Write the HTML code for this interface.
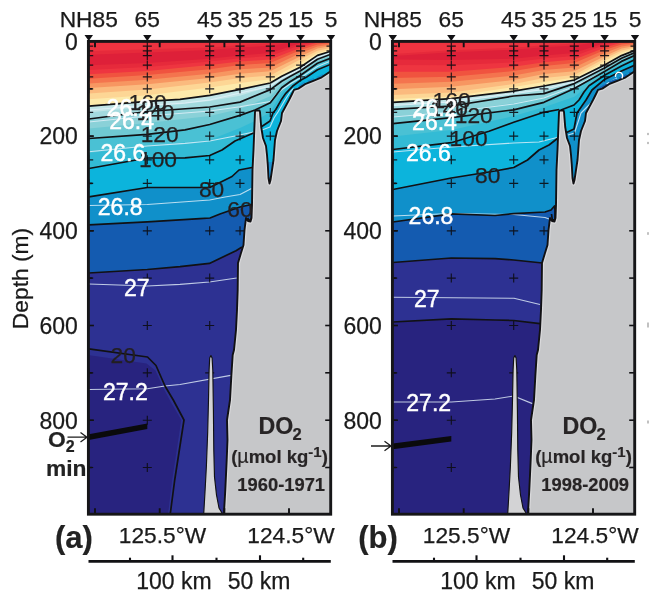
<!DOCTYPE html>
<html lang="en">
<head>
<meta charset="utf-8">
<title>Dissolved oxygen sections</title>
<style>
html, body { margin: 0; padding: 0; background: #fff; }
body { width: 659px; height: 601px; overflow: hidden; font-family: "Liberation Sans", Arial, sans-serif; }
svg { display: block; filter: blur(0.45px); }
</style>
</head>
<body>
<svg width="659" height="601" viewBox="0 0 659 601" font-family="'Liberation Sans', Arial, sans-serif" fill="#1a1a1a">
<rect width="659" height="601" fill="#fff"/>
<g transform="translate(0.00,0)">
<clipPath id="clipa"><rect x="88.4" y="41.4" width="242.29999999999998" height="472.80000000000007"/></clipPath>
<g clip-path="url(#clipa)">
<rect x="88.4" y="41.4" width="242.29999999999998" height="472.80000000000007" fill="#2d3192"/>
<polygon points="86.0,354.6 146.5,363.6 155.5,370.5 163.0,387.5 170.5,401.5 181.3,420.0 172.2,480.0 167.8,516.0 86.0,516.0" fill="#28237f"/>
<polygon points="88.8,39.4 88.8,273.0 147.3,269.5 180.0,266.7 209.4,263.4 236.0,250.7 242.0,247.0 260.0,247.0 260.0,39.4" fill="#145bb0"/>
<polygon points="88.8,39.4 88.8,224.8 147.3,221.8 200.0,218.7 210.0,218.0 220.0,214.0 240.0,207.0 251.5,204.5 260.0,204.0 260.0,39.4" fill="#1090ca"/>
<polygon points="88.8,39.4 88.8,196.8 147.3,187.5 209.7,187.5 225.0,180.0 232.0,176.5 239.0,170.0 252.0,167.5 260.0,167.0 260.0,200.0 335.0,200.0 335.0,39.4" fill="#0cb4dc"/>
<polygon points="88.8,39.4 88.8,168.5 147.3,158.0 185.0,157.8 209.7,155.5 222.0,150.0 235.0,141.0 253.5,133.0 258.0,130.0 261.0,127.0 270.0,121.0 273.0,113.0 275.8,109.5 281.7,99.2 285.8,93.3 292.5,86.3 300.6,80.2 306.7,77.0 317.5,69.8 331.0,64.2 331.0,39.4" fill="#33bbd5"/>
<polygon points="88.8,39.4 88.8,153.0 147.3,146.0 209.7,140.0 240.0,128.0 257.0,120.0 270.3,112.0 278.0,99.0 285.0,89.5 300.6,77.7 317.5,66.5 331.0,61.0 331.0,39.4" fill="#4ac1d4"/>
<polygon points="88.8,39.4 88.8,138.5 147.3,134.3 185.0,129.8 209.7,124.5 240.0,115.4 255.0,110.0 270.3,102.8 275.9,95.5 281.7,87.8 290.0,81.8 300.6,75.3 317.5,63.3 331.0,58.0 331.0,39.4" fill="#6fc9d3"/>
<polygon points="88.8,39.4 88.8,128.5 147.3,123.0 209.7,116.0 240.0,109.0 270.3,96.2 281.7,84.5 290.0,79.0 300.6,73.0 317.5,61.2 331.0,56.0 331.0,39.4" fill="#8ad1d8"/>
<polygon points="88.8,39.4 88.8,119.0 147.3,111.5 209.7,107.0 240.0,102.1 270.3,89.6 281.7,81.2 290.0,76.4 300.6,70.8 317.5,59.2 331.0,54.2 331.0,39.4" fill="#a3dade"/>
<polygon points="88.8,39.4 88.8,112.6 147.3,106.4 180.0,104.3 209.7,101.1 240.0,95.7 270.3,86.3 281.7,78.7 300.6,68.9 317.5,57.3 331.0,52.7 331.0,39.4" fill="#c2e6e8"/>
<polygon points="88.8,39.4 88.8,106.2 147.3,101.3 180.0,99.3 209.7,95.3 240.0,89.3 270.3,83.0 281.7,76.2 300.6,67.0 317.5,55.4 331.0,51.2 331.0,39.4" fill="#fdeaab"/>
<polygon points="88.8,39.4 88.8,99.2 147.3,95.3 209.7,87.4 240.0,83.0 270.3,79.3 300.6,63.0 317.5,53.0 331.0,49.5 331.0,39.4" fill="#fdd695"/>
<polygon points="88.8,39.4 88.8,93.4 147.3,89.5 209.7,82.4 240.0,78.0 270.3,75.6 300.6,59.3 317.5,50.8 331.0,47.8 331.0,39.4" fill="#fbba7e"/>
<polygon points="88.8,39.4 88.8,88.1 147.3,84.3 209.7,78.0 240.0,73.7 270.3,71.2 300.6,56.2 317.5,48.5 331.0,46.0 331.0,39.4" fill="#f79661"/>
<polygon points="88.8,39.4 88.8,83.4 147.3,79.7 209.7,73.7 240.0,69.3 270.3,67.5 300.6,53.0 317.5,46.5 331.0,44.4 331.0,39.4" fill="#f4744e"/>
<polygon points="88.8,39.4 88.8,78.8 147.3,75.0 209.7,69.3 240.0,65.0 270.3,63.0 300.6,50.0 317.5,44.5 331.0,43.0 331.0,39.4" fill="#f0533f"/>
<polygon points="88.8,39.4 88.8,74.2 147.3,71.0 209.7,65.1 240.0,61.4 270.3,59.5 300.6,47.7 317.5,42.5 331.0,41.5 331.0,39.4" fill="#ee3540"/>
<polygon points="88.8,39.4 88.8,70.0 147.3,67.0 209.7,61.5 240.0,58.2 270.3,56.0 300.6,45.1 317.5,41.7 331.0,41.2 331.0,39.4" fill="#e62a3b"/>
<polygon points="88.8,39.4 88.8,65.3 147.3,63.0 209.7,58.7 240.0,55.6 270.3,53.1 300.6,43.1 317.5,41.0 331.0,41.0 331.0,39.4" fill="#de2039"/>
<polygon points="88.8,39.4 88.8,54.8 147.3,52.6 209.7,50.0 240.0,47.5 270.3,45.7 300.6,41.0 317.5,41.0 331.0,41.0 331.0,39.4" fill="#e62a3b"/>
<polygon points="88.8,39.4 88.8,51.3 147.3,49.2 209.7,47.4 240.0,44.9 270.3,43.1 300.6,41.0 317.5,41.0 331.0,41.0 331.0,39.4" fill="#ee3340"/>
<polygon points="262.0,162.0 278.0,162.0 278.0,190.0 262.0,190.0" fill="#1c8fd0"/>
<polyline points="88.8,110.0 147.3,105.5 185.0,103.0 209.7,100.0 240.0,93.0 270.3,86.3 281.7,78.5 300.6,69.0 317.5,57.3 331.0,52.7" fill="none" stroke="#e4f1fa" stroke-opacity="0.8" stroke-width="1.15" stroke-linejoin="round"/>
<polyline points="88.8,122.0 147.3,116.0 185.0,113.0 209.7,111.0 240.0,106.7 270.3,101.5 275.5,95.0 281.7,89.8 290.0,84.0 300.6,77.8 317.5,66.5 331.0,61.0" fill="none" stroke="#e4f1fa" stroke-opacity="0.8" stroke-width="1.15" stroke-linejoin="round"/>
<polyline points="88.8,151.8 147.3,146.0 185.0,143.4 209.7,141.0 235.0,136.0 253.5,132.0" fill="none" stroke="#e4f1fa" stroke-opacity="0.8" stroke-width="1.15" stroke-linejoin="round"/>
<polyline points="262.0,130.0 270.0,127.0 274.0,118.0 278.0,112.0 285.0,100.0 290.5,91.5 293.5,88.5" fill="none" stroke="#e4f1fa" stroke-opacity="0.8" stroke-width="1.15" stroke-linejoin="round"/>
<polyline points="88.8,205.5 147.3,204.5 209.7,200.0 225.0,197.0 240.0,194.5 251.5,188.5" fill="none" stroke="#e4f1fa" stroke-opacity="0.8" stroke-width="1.15" stroke-linejoin="round"/>
<polyline points="88.8,284.0 147.3,286.0 180.0,284.4 209.4,282.0 236.7,278.0" fill="none" stroke="#e4f1fa" stroke-opacity="0.8" stroke-width="1.15" stroke-linejoin="round"/>
<polyline points="88.8,389.5 147.3,388.8 165.0,386.0 180.0,384.5 230.7,375.4" fill="none" stroke="#e4f1fa" stroke-opacity="0.8" stroke-width="1.15" stroke-linejoin="round"/>
<polyline points="88.8,106.2 147.3,101.3 180.0,99.3 209.7,95.3 240.0,89.3 270.3,83.0 281.7,76.2 300.6,67.0 317.5,55.4 331.0,51.2" fill="none" stroke="#111114" stroke-width="1.7" stroke-linejoin="round"/>
<polyline points="88.8,119.0 147.3,111.5 209.7,107.0 240.0,102.1 270.3,89.6 281.7,81.2 290.0,76.4 300.6,70.8 317.5,59.2 331.0,54.2" fill="none" stroke="#111114" stroke-width="1.7" stroke-linejoin="round"/>
<polyline points="88.8,138.5 147.3,134.3 185.0,129.8 209.7,124.5 240.0,115.4 255.0,110.0 270.3,102.8 275.9,95.5 281.7,87.8 290.0,81.8 300.6,75.3 317.5,63.3 331.0,58.0" fill="none" stroke="#111114" stroke-width="1.7" stroke-linejoin="round"/>
<polyline points="88.8,168.5 147.3,158.0 185.0,157.8 209.7,155.5 222.0,150.0 235.0,141.0 253.5,133.0" fill="none" stroke="#111114" stroke-width="1.7" stroke-linejoin="round"/>
<polyline points="261.0,127.0 270.0,121.0 273.0,113.0 275.8,109.5 281.7,99.2 285.8,93.3 292.5,86.3 300.6,80.2 306.7,77.0 317.5,69.8 331.0,64.2" fill="none" stroke="#111114" stroke-width="1.7" stroke-linejoin="round"/>
<polyline points="88.8,196.8 147.3,187.5 209.7,187.5 225.0,180.0 232.0,176.5 239.0,170.0 252.0,167.5" fill="none" stroke="#111114" stroke-width="1.7" stroke-linejoin="round"/>
<polyline points="88.8,224.8 147.3,221.8 200.0,218.7 210.0,218.0 220.0,214.0 240.0,207.0 251.5,204.5 251.5,218.0 250.0,221.0 247.5,218.0" fill="none" stroke="#111114" stroke-width="1.7" stroke-linejoin="round"/>
<polyline points="88.8,273.0 147.3,269.5 180.0,266.7 209.4,263.4 236.0,250.7 242.0,247.0" fill="none" stroke="#111114" stroke-width="1.7" stroke-linejoin="round"/>
<polyline points="88.8,348.8 147.5,357.0 156.0,365.5 165.0,386.0 173.3,400.0 184.0,420.0 174.7,480.0 170.0,516.0" fill="none" stroke="#111114" stroke-width="1.7" stroke-linejoin="round"/>
<path d="M84.2 46.1H93.2M88.8 41.6V50.6" stroke="#0c0c12" stroke-opacity="0.9" stroke-width="1.15" fill="none"/>
<path d="M84.2 50.9H93.2M88.8 46.4V55.4" stroke="#0c0c12" stroke-opacity="0.9" stroke-width="1.15" fill="none"/>
<path d="M84.2 55.6H93.2M88.8 51.1V60.1" stroke="#0c0c12" stroke-opacity="0.9" stroke-width="1.15" fill="none"/>
<path d="M84.2 65.1H93.2M88.8 60.6V69.6" stroke="#0c0c12" stroke-opacity="0.9" stroke-width="1.15" fill="none"/>
<path d="M84.2 76.9H93.2M88.8 72.4V81.4" stroke="#0c0c12" stroke-opacity="0.9" stroke-width="1.15" fill="none"/>
<path d="M84.2 88.8H93.2M88.8 84.2V93.2" stroke="#0c0c12" stroke-opacity="0.9" stroke-width="1.15" fill="none"/>
<path d="M84.2 112.4H93.2M88.8 107.9V116.9" stroke="#0c0c12" stroke-opacity="0.9" stroke-width="1.15" fill="none"/>
<path d="M84.2 136.1H93.2M88.8 131.6V140.6" stroke="#0c0c12" stroke-opacity="0.9" stroke-width="1.15" fill="none"/>
<path d="M84.2 159.8H93.2M88.8 155.3V164.3" stroke="#0c0c12" stroke-opacity="0.9" stroke-width="1.15" fill="none"/>
<path d="M84.2 183.4H93.2M88.8 178.9V187.9" stroke="#0c0c12" stroke-opacity="0.9" stroke-width="1.15" fill="none"/>
<path d="M84.2 230.8H93.2M88.8 226.3V235.3" stroke="#0c0c12" stroke-opacity="0.9" stroke-width="1.15" fill="none"/>
<path d="M84.2 278.1H93.2M88.8 273.6V282.6" stroke="#0c0c12" stroke-opacity="0.9" stroke-width="1.15" fill="none"/>
<path d="M84.2 325.5H93.2M88.8 321.0V330.0" stroke="#0c0c12" stroke-opacity="0.9" stroke-width="1.15" fill="none"/>
<path d="M84.2 372.8H93.2M88.8 368.3V377.3" stroke="#0c0c12" stroke-opacity="0.9" stroke-width="1.15" fill="none"/>
<path d="M84.2 420.2H93.2M88.8 415.7V424.7" stroke="#0c0c12" stroke-opacity="0.9" stroke-width="1.15" fill="none"/>
<path d="M84.2 467.5H93.2M88.8 463.0V472.0" stroke="#0c0c12" stroke-opacity="0.9" stroke-width="1.15" fill="none"/>
<path d="M142.8 46.1H151.8M147.3 41.6V50.6" stroke="#0c0c12" stroke-opacity="0.9" stroke-width="1.15" fill="none"/>
<path d="M142.8 50.9H151.8M147.3 46.4V55.4" stroke="#0c0c12" stroke-opacity="0.9" stroke-width="1.15" fill="none"/>
<path d="M142.8 55.6H151.8M147.3 51.1V60.1" stroke="#0c0c12" stroke-opacity="0.9" stroke-width="1.15" fill="none"/>
<path d="M142.8 65.1H151.8M147.3 60.6V69.6" stroke="#0c0c12" stroke-opacity="0.9" stroke-width="1.15" fill="none"/>
<path d="M142.8 76.9H151.8M147.3 72.4V81.4" stroke="#0c0c12" stroke-opacity="0.9" stroke-width="1.15" fill="none"/>
<path d="M142.8 88.8H151.8M147.3 84.2V93.2" stroke="#0c0c12" stroke-opacity="0.9" stroke-width="1.15" fill="none"/>
<path d="M142.8 112.4H151.8M147.3 107.9V116.9" stroke="#0c0c12" stroke-opacity="0.9" stroke-width="1.15" fill="none"/>
<path d="M142.8 136.1H151.8M147.3 131.6V140.6" stroke="#0c0c12" stroke-opacity="0.9" stroke-width="1.15" fill="none"/>
<path d="M142.8 159.8H151.8M147.3 155.3V164.3" stroke="#0c0c12" stroke-opacity="0.9" stroke-width="1.15" fill="none"/>
<path d="M142.8 183.4H151.8M147.3 178.9V187.9" stroke="#0c0c12" stroke-opacity="0.9" stroke-width="1.15" fill="none"/>
<path d="M142.8 230.8H151.8M147.3 226.3V235.3" stroke="#0c0c12" stroke-opacity="0.9" stroke-width="1.15" fill="none"/>
<path d="M142.8 278.1H151.8M147.3 273.6V282.6" stroke="#0c0c12" stroke-opacity="0.9" stroke-width="1.15" fill="none"/>
<path d="M142.8 325.5H151.8M147.3 321.0V330.0" stroke="#0c0c12" stroke-opacity="0.9" stroke-width="1.15" fill="none"/>
<path d="M142.8 372.8H151.8M147.3 368.3V377.3" stroke="#0c0c12" stroke-opacity="0.9" stroke-width="1.15" fill="none"/>
<path d="M142.8 420.2H151.8M147.3 415.7V424.7" stroke="#0c0c12" stroke-opacity="0.9" stroke-width="1.15" fill="none"/>
<path d="M142.8 467.5H151.8M147.3 463.0V472.0" stroke="#0c0c12" stroke-opacity="0.9" stroke-width="1.15" fill="none"/>
<path d="M205.2 46.1H214.2M209.7 41.6V50.6" stroke="#0c0c12" stroke-opacity="0.9" stroke-width="1.15" fill="none"/>
<path d="M205.2 50.9H214.2M209.7 46.4V55.4" stroke="#0c0c12" stroke-opacity="0.9" stroke-width="1.15" fill="none"/>
<path d="M205.2 55.6H214.2M209.7 51.1V60.1" stroke="#0c0c12" stroke-opacity="0.9" stroke-width="1.15" fill="none"/>
<path d="M205.2 65.1H214.2M209.7 60.6V69.6" stroke="#0c0c12" stroke-opacity="0.9" stroke-width="1.15" fill="none"/>
<path d="M205.2 76.9H214.2M209.7 72.4V81.4" stroke="#0c0c12" stroke-opacity="0.9" stroke-width="1.15" fill="none"/>
<path d="M205.2 88.8H214.2M209.7 84.2V93.2" stroke="#0c0c12" stroke-opacity="0.9" stroke-width="1.15" fill="none"/>
<path d="M205.2 112.4H214.2M209.7 107.9V116.9" stroke="#0c0c12" stroke-opacity="0.9" stroke-width="1.15" fill="none"/>
<path d="M205.2 136.1H214.2M209.7 131.6V140.6" stroke="#0c0c12" stroke-opacity="0.9" stroke-width="1.15" fill="none"/>
<path d="M205.2 159.8H214.2M209.7 155.3V164.3" stroke="#0c0c12" stroke-opacity="0.9" stroke-width="1.15" fill="none"/>
<path d="M205.2 183.4H214.2M209.7 178.9V187.9" stroke="#0c0c12" stroke-opacity="0.9" stroke-width="1.15" fill="none"/>
<path d="M205.2 230.8H214.2M209.7 226.3V235.3" stroke="#0c0c12" stroke-opacity="0.9" stroke-width="1.15" fill="none"/>
<path d="M205.2 278.1H214.2M209.7 273.6V282.6" stroke="#0c0c12" stroke-opacity="0.9" stroke-width="1.15" fill="none"/>
<path d="M205.2 325.5H214.2M209.7 321.0V330.0" stroke="#0c0c12" stroke-opacity="0.9" stroke-width="1.15" fill="none"/>
<path d="M205.2 372.8H214.2M209.7 368.3V377.3" stroke="#0c0c12" stroke-opacity="0.9" stroke-width="1.15" fill="none"/>
<path d="M235.5 46.1H244.5M240.0 41.6V50.6" stroke="#0c0c12" stroke-opacity="0.9" stroke-width="1.15" fill="none"/>
<path d="M235.5 50.9H244.5M240.0 46.4V55.4" stroke="#0c0c12" stroke-opacity="0.9" stroke-width="1.15" fill="none"/>
<path d="M235.5 55.6H244.5M240.0 51.1V60.1" stroke="#0c0c12" stroke-opacity="0.9" stroke-width="1.15" fill="none"/>
<path d="M235.5 65.1H244.5M240.0 60.6V69.6" stroke="#0c0c12" stroke-opacity="0.9" stroke-width="1.15" fill="none"/>
<path d="M235.5 76.9H244.5M240.0 72.4V81.4" stroke="#0c0c12" stroke-opacity="0.9" stroke-width="1.15" fill="none"/>
<path d="M235.5 88.8H244.5M240.0 84.2V93.2" stroke="#0c0c12" stroke-opacity="0.9" stroke-width="1.15" fill="none"/>
<path d="M235.5 112.4H244.5M240.0 107.9V116.9" stroke="#0c0c12" stroke-opacity="0.9" stroke-width="1.15" fill="none"/>
<path d="M235.5 136.1H244.5M240.0 131.6V140.6" stroke="#0c0c12" stroke-opacity="0.9" stroke-width="1.15" fill="none"/>
<path d="M235.5 159.8H244.5M240.0 155.3V164.3" stroke="#0c0c12" stroke-opacity="0.9" stroke-width="1.15" fill="none"/>
<path d="M235.5 183.4H244.5M240.0 178.9V187.9" stroke="#0c0c12" stroke-opacity="0.9" stroke-width="1.15" fill="none"/>
<path d="M235.5 230.8H244.5M240.0 226.3V235.3" stroke="#0c0c12" stroke-opacity="0.9" stroke-width="1.15" fill="none"/>
<path d="M265.8 46.1H274.8M270.3 41.6V50.6" stroke="#0c0c12" stroke-opacity="0.9" stroke-width="1.15" fill="none"/>
<path d="M265.8 50.9H274.8M270.3 46.4V55.4" stroke="#0c0c12" stroke-opacity="0.9" stroke-width="1.15" fill="none"/>
<path d="M265.8 55.6H274.8M270.3 51.1V60.1" stroke="#0c0c12" stroke-opacity="0.9" stroke-width="1.15" fill="none"/>
<path d="M265.8 65.1H274.8M270.3 60.6V69.6" stroke="#0c0c12" stroke-opacity="0.9" stroke-width="1.15" fill="none"/>
<path d="M265.8 76.9H274.8M270.3 72.4V81.4" stroke="#0c0c12" stroke-opacity="0.9" stroke-width="1.15" fill="none"/>
<path d="M265.8 88.8H274.8M270.3 84.2V93.2" stroke="#0c0c12" stroke-opacity="0.9" stroke-width="1.15" fill="none"/>
<path d="M265.8 112.4H274.8M270.3 107.9V116.9" stroke="#0c0c12" stroke-opacity="0.9" stroke-width="1.15" fill="none"/>
<path d="M265.8 136.1H274.8M270.3 131.6V140.6" stroke="#0c0c12" stroke-opacity="0.9" stroke-width="1.15" fill="none"/>
<path d="M296.1 46.1H305.1M300.6 41.6V50.6" stroke="#0c0c12" stroke-opacity="0.9" stroke-width="1.15" fill="none"/>
<path d="M296.1 50.9H305.1M300.6 46.4V55.4" stroke="#0c0c12" stroke-opacity="0.9" stroke-width="1.15" fill="none"/>
<path d="M296.1 55.6H305.1M300.6 51.1V60.1" stroke="#0c0c12" stroke-opacity="0.9" stroke-width="1.15" fill="none"/>
<path d="M296.1 65.1H305.1M300.6 60.6V69.6" stroke="#0c0c12" stroke-opacity="0.9" stroke-width="1.15" fill="none"/>
<path d="M296.1 76.9H305.1M300.6 72.4V81.4" stroke="#0c0c12" stroke-opacity="0.9" stroke-width="1.15" fill="none"/>
<path d="M326.5 46.1H335.5M331.0 41.6V50.6" stroke="#0c0c12" stroke-opacity="0.9" stroke-width="1.15" fill="none"/>
<path d="M326.5 50.9H335.5M331.0 46.4V55.4" stroke="#0c0c12" stroke-opacity="0.9" stroke-width="1.15" fill="none"/>
<polyline points="299,86.5 305,82.6 313.3,79.2 319,77 324,74.5" fill="none" stroke="#1591cc" stroke-width="2.2" stroke-dasharray="7 3"/>
<clipPath id="lca"><polygon points="331.0,71.0 321.7,77.3 313.3,80.8 305.0,84.2 298.3,88.6 294.0,89.8 291.5,95.0 289.0,100.0 282.0,113.0 281.0,121.0 277.0,131.0 275.0,140.0 273.5,160.0 272.0,170.0 270.5,180.0 269.5,183.5 268.5,178.0 267.8,165.0 267.0,155.0 266.0,146.0 263.0,138.0 261.2,127.0 260.0,112.0 259.5,110.5 255.5,110.5 255.0,112.0 253.5,150.0 252.5,170.0 252.0,205.0 251.5,218.0 250.5,221.5 248.0,221.0 246.0,218.0 244.5,230.0 243.5,245.0 241.0,253.0 238.0,263.0 237.7,290.0 237.0,310.0 236.0,330.0 234.0,350.0 232.7,355.0 231.4,375.0 230.0,400.0 227.0,420.0 227.5,440.0 226.7,460.0 225.3,490.0 223.8,516.0 334.0,516.0 334.0,71.5"/></clipPath>
<polygon points="331.0,71.0 321.7,77.3 313.3,80.8 305.0,84.2 298.3,88.6 294.0,89.8 291.5,95.0 289.0,100.0 282.0,113.0 281.0,121.0 277.0,131.0 275.0,140.0 273.5,160.0 272.0,170.0 270.5,180.0 269.5,183.5 268.5,178.0 267.8,165.0 267.0,155.0 266.0,146.0 263.0,138.0 261.2,127.0 260.0,112.0 259.5,110.5 255.5,110.5 255.0,112.0 253.5,150.0 252.5,170.0 252.0,205.0 251.5,218.0 250.5,221.5 248.0,221.0 246.0,218.0 244.5,230.0 243.5,245.0 241.0,253.0 238.0,263.0 237.7,290.0 237.0,310.0 236.0,330.0 234.0,350.0 232.7,355.0 231.4,375.0 230.0,400.0 227.0,420.0 227.5,440.0 226.7,460.0 225.3,490.0 223.8,516.0 334.0,516.0 334.0,71.5" fill="#c6c7c9"/>
<polygon points="331.0,71.0 321.7,77.3 313.3,80.8 305.0,84.2 298.3,88.6 294.0,89.8 291.5,95.0 289.0,100.0 282.0,113.0 281.0,121.0 277.0,131.0 275.0,140.0 273.5,160.0 272.0,170.0 270.5,180.0 269.5,183.5 268.5,178.0 267.8,165.0 267.0,155.0 266.0,146.0 263.0,138.0 261.2,127.0 260.0,112.0 259.5,110.5 255.5,110.5 255.0,112.0 253.5,150.0 252.5,170.0 252.0,205.0 251.5,218.0 250.5,221.5 248.0,221.0 246.0,218.0 244.5,230.0 243.5,245.0 241.0,253.0 238.0,263.0 237.7,290.0 237.0,310.0 236.0,330.0 234.0,350.0 232.7,355.0 231.4,375.0 230.0,400.0 227.0,420.0 227.5,440.0 226.7,460.0 225.3,490.0 223.8,516.0 334.0,516.0 334.0,71.5" fill="none" stroke="#d9d9db" stroke-width="4.4" stroke-linejoin="round" clip-path="url(#lca)"/>
<polygon points="331.0,71.0 321.7,77.3 313.3,80.8 305.0,84.2 298.3,88.6 294.0,89.8 291.5,95.0 289.0,100.0 282.0,113.0 281.0,121.0 277.0,131.0 275.0,140.0 273.5,160.0 272.0,170.0 270.5,180.0 269.5,183.5 268.5,178.0 267.8,165.0 267.0,155.0 266.0,146.0 263.0,138.0 261.2,127.0 260.0,112.0 259.5,110.5 255.5,110.5 255.0,112.0 253.5,150.0 252.5,170.0 252.0,205.0 251.5,218.0 250.5,221.5 248.0,221.0 246.0,218.0 244.5,230.0 243.5,245.0 241.0,253.0 238.0,263.0 237.7,290.0 237.0,310.0 236.0,330.0 234.0,350.0 232.7,355.0 231.4,375.0 230.0,400.0 227.0,420.0 227.5,440.0 226.7,460.0 225.3,490.0 223.8,516.0 334.0,516.0 334.0,71.5" fill="none" stroke="#111114" stroke-width="1.9" stroke-linejoin="round"/>
<polygon points="203.6,516.0 205.0,492.0 206.4,466.0 207.7,432.0 208.5,400.0 209.1,370.0 209.7,358.0 210.9,355.6 212.1,358.0 212.8,370.0 213.4,410.0 213.8,450.0 214.5,477.0 216.5,495.0 219.0,508.0 222.0,513.0 222.2,516.0" fill="#d3d3d5" stroke="#111114" stroke-width="1.15" stroke-linejoin="round"/>
<polygon points="88.75,434.3 147.3,423.5 147.3,429.1 88.75,440.1" fill="#0a0a0c"/>
</g>
<path d="M95 41.4v5.8M95 514.2v-6" stroke="#111114" stroke-width="1.9"/>
<path d="M159.7 41.4v5.8M159.7 514.2v-6" stroke="#111114" stroke-width="1.9"/>
<path d="M224.4 41.4v5.8M224.4 514.2v-6" stroke="#111114" stroke-width="1.9"/>
<path d="M289 41.4v5.8M289 514.2v-6" stroke="#111114" stroke-width="1.9"/>
<path d="M330.7 88.8h-5.5" stroke="#111114" stroke-width="1.6"/>
<path d="M88.4 88.8h4" stroke="#111114" stroke-width="1.6"/>
<path d="M330.7 136.1h-5.5" stroke="#111114" stroke-width="1.6"/>
<path d="M88.4 136.1h5.5" stroke="#111114" stroke-width="1.6"/>
<path d="M330.7 183.4h-5.5" stroke="#111114" stroke-width="1.6"/>
<path d="M88.4 183.4h4" stroke="#111114" stroke-width="1.6"/>
<path d="M330.7 230.8h-5.5" stroke="#111114" stroke-width="1.6"/>
<path d="M88.4 230.8h5.5" stroke="#111114" stroke-width="1.6"/>
<path d="M330.7 278.1h-5.5" stroke="#111114" stroke-width="1.6"/>
<path d="M88.4 278.1h4" stroke="#111114" stroke-width="1.6"/>
<path d="M330.7 325.5h-5.5" stroke="#111114" stroke-width="1.6"/>
<path d="M88.4 325.5h5.5" stroke="#111114" stroke-width="1.6"/>
<path d="M330.7 372.8h-5.5" stroke="#111114" stroke-width="1.6"/>
<path d="M88.4 372.8h4" stroke="#111114" stroke-width="1.6"/>
<path d="M330.7 420.2h-5.5" stroke="#111114" stroke-width="1.6"/>
<path d="M88.4 420.2h5.5" stroke="#111114" stroke-width="1.6"/>
<path d="M330.7 467.5h-5.5" stroke="#111114" stroke-width="1.6"/>
<path d="M88.4 467.5h4" stroke="#111114" stroke-width="1.6"/>
<rect x="88.4" y="41.4" width="242.29999999999998" height="472.80000000000007" fill="none" stroke="#161618" stroke-width="2.9"/>
<polygon points="84.5,35 93.0,35 88.8,41" fill="#111114"/>
<text x="88.8" y="27.3" text-anchor="middle" font-size="22.8" stroke="#1a1a1a" stroke-width="0.25">NH85</text>
<polygon points="143.1,35 151.5,35 147.3,41" fill="#111114"/>
<text x="147.3" y="27.3" text-anchor="middle" font-size="22.8" stroke="#1a1a1a" stroke-width="0.25">65</text>
<polygon points="205.5,35 213.9,35 209.7,41" fill="#111114"/>
<text x="209.7" y="27.3" text-anchor="middle" font-size="22.8" stroke="#1a1a1a" stroke-width="0.25">45</text>
<polygon points="235.8,35 244.2,35 240.0,41" fill="#111114"/>
<text x="240.0" y="27.3" text-anchor="middle" font-size="22.8" stroke="#1a1a1a" stroke-width="0.25">35</text>
<polygon points="266.1,35 274.5,35 270.3,41" fill="#111114"/>
<text x="270.3" y="27.3" text-anchor="middle" font-size="22.8" stroke="#1a1a1a" stroke-width="0.25">25</text>
<polygon points="296.4,35 304.8,35 300.6,41" fill="#111114"/>
<text x="300.6" y="27.3" text-anchor="middle" font-size="22.8" stroke="#1a1a1a" stroke-width="0.25">15</text>
<polygon points="326.8,35 335.2,35 331.0,41" fill="#111114"/>
<text x="331.0" y="27.3" text-anchor="middle" font-size="22.8" stroke="#1a1a1a" stroke-width="0.25">5</text>
<text x="77.8" y="50.4" text-anchor="end" font-size="23" stroke="#1a1a1a" stroke-width="0.25">0</text>
<text x="77.8" y="144.4" text-anchor="end" font-size="23" stroke="#1a1a1a" stroke-width="0.25">200</text>
<text x="77.8" y="239.1" text-anchor="end" font-size="23" stroke="#1a1a1a" stroke-width="0.25">400</text>
<text x="77.8" y="333.8" text-anchor="end" font-size="23" stroke="#1a1a1a" stroke-width="0.25">600</text>
<text x="77.8" y="428.5" text-anchor="end" font-size="23" stroke="#1a1a1a" stroke-width="0.25">800</text>
<text x="162.5" y="543" text-anchor="middle" font-size="22.7" stroke="#1a1a1a" stroke-width="0.25">125.5°W</text>
<text x="291" y="543" text-anchor="middle" font-size="22.7" stroke="#1a1a1a" stroke-width="0.25">124.5°W</text>
<path d="M88.5 561.3H330.8" stroke="#111114" stroke-width="2.7"/>
<path d="M130 561.3v-3.6" stroke="#111114" stroke-width="2.1"/>
<path d="M172.5 561.3v-6" stroke="#111114" stroke-width="2.1"/>
<path d="M216.5 561.3v-3.6" stroke="#111114" stroke-width="2.1"/>
<path d="M260 561.3v-6" stroke="#111114" stroke-width="2.1"/>
<path d="M303.2 561.3v-3.6" stroke="#111114" stroke-width="2.1"/>
<text x="174" y="588.7" text-anchor="middle" font-size="23" stroke="#1a1a1a" stroke-width="0.25">100 km</text>
<text x="259" y="588.7" text-anchor="middle" font-size="23" stroke="#1a1a1a" stroke-width="0.25">50 km</text>
<text x="74" y="548" text-anchor="middle" font-size="31" font-weight="bold" fill="#222" stroke="#222" stroke-width="0.2">(a)</text>
<text x="258.6" y="433.9" font-size="23.2" font-weight="bold" fill="#272425" stroke="#272425" stroke-width="0.2">DO<tspan font-size="16.5" dy="6" dx="-0.8">2</tspan></text>
<text x="231.2" y="463" font-size="18.5" font-weight="bold" fill="#272425" stroke="#272425" stroke-width="0.2">(<tspan font-weight="normal" font-size="19.6">µ</tspan>mol kg<tspan font-size="15" dy="-6.5">-1</tspan><tspan dy="6.5">)</tspan></text>
<text x="281.2" y="490.6" text-anchor="middle" font-size="18.35" font-weight="bold" fill="#272425" stroke="#272425" stroke-width="0.2">1960-1971</text>
<text x="147.6" y="110.4" text-anchor="middle" font-size="22.8" fill="#231f20" stroke="#231f20" stroke-width="0.25">160</text>
<text x="155.5" y="120.2" text-anchor="middle" font-size="22.8" fill="#231f20" stroke="#231f20" stroke-width="0.25">140</text>
<text x="159.7" y="142.2" text-anchor="middle" font-size="22.8" fill="#231f20" stroke="#231f20" stroke-width="0.25">120</text>
<text x="158" y="167.4" text-anchor="middle" font-size="22.8" fill="#231f20" stroke="#231f20" stroke-width="0.25">100</text>
<text x="211.6" y="197" text-anchor="middle" font-size="22.8" fill="#231f20" stroke="#231f20" stroke-width="0.25">80</text>
<text x="240" y="216.6" text-anchor="middle" font-size="22.8" fill="#231f20" stroke="#231f20" stroke-width="0.25">60</text>
<text x="123.3" y="363.2" text-anchor="middle" font-size="22.8" fill="#231f20" stroke="#231f20" stroke-width="0.25">20</text>
<text x="129" y="115.5" text-anchor="middle" font-size="23" fill="#fff" stroke="#fff" stroke-width="0.45">26.2</text>
<text x="131.6" y="129.3" text-anchor="middle" font-size="23" fill="#fff" stroke="#fff" stroke-width="0.45">26.4</text>
<text x="122.8" y="161.2" text-anchor="middle" font-size="23" fill="#fff" stroke="#fff" stroke-width="0.45">26.6</text>
<text x="120.2" y="215.4" text-anchor="middle" font-size="23" fill="#fff" stroke="#fff" stroke-width="0.45">26.8</text>
<text x="136.7" y="296" text-anchor="middle" font-size="23" fill="#fff" stroke="#fff" stroke-width="0.45">27</text>
<text x="125.4" y="400.2" text-anchor="middle" font-size="23" fill="#fff" stroke="#fff" stroke-width="0.45">27.2</text>
<path d="M67.5 437.2H86.5M80.5 432.4L87 437.2L80.5 442" stroke="#1c1c1c" stroke-width="1.3" fill="none"/>
<text x="48" y="446.5" font-size="22.8" font-weight="bold" fill="#222" stroke="#222" stroke-width="0.2">O<tspan font-size="16" dy="5">2</tspan></text>
<text x="46" y="476" font-size="22.8" font-weight="bold" fill="#222" stroke="#222" stroke-width="0.2">min</text>
<text transform="translate(27.6,278.5) rotate(-90)" text-anchor="middle" font-size="22.8" stroke="#1a1a1a" stroke-width="0.25">Depth (m)</text>
</g>
<g transform="translate(304.00,0)">
<clipPath id="clipb"><rect x="88.4" y="41.4" width="242.29999999999998" height="472.80000000000007"/></clipPath>
<g clip-path="url(#clipb)">
<rect x="88.4" y="41.4" width="242.29999999999998" height="472.80000000000007" fill="#28237f"/>
<polygon points="88.8,39.4 88.8,322.0 147.3,318.8 191.0,320.0 209.7,320.5 236.0,323.7 260.0,324.0 260.0,39.4" fill="#2d3192"/>
<polygon points="88.8,39.4 88.8,262.5 147.3,258.0 191.0,258.7 209.7,260.0 238.4,263.0 260.0,263.0 260.0,39.4" fill="#145bb0"/>
<polygon points="88.8,39.4 88.8,222.0 147.3,213.8 191.0,215.5 209.7,213.7 241.0,212.0 247.0,210.0 250.5,206.0 260.0,206.0 260.0,200.0 335.0,200.0 335.0,39.4" fill="#1090ca"/>
<polygon points="88.8,39.4 88.8,189.5 147.3,178.0 191.0,171.0 209.7,167.5 223.5,160.0 235.0,150.0 245.0,145.0 254.0,138.0 258.0,136.0 261.5,133.0 270.0,129.0 273.0,113.0 282.0,100.0 288.0,90.0 300.6,79.4 317.5,71.0 331.0,65.0 331.0,39.4" fill="#0cb4dc"/>
<polygon points="88.8,39.4 88.8,149.5 147.3,142.7 185.0,131.3 209.7,122.3 239.7,112.3 255.0,109.5 257.0,110.0 270.0,105.0 275.0,100.0 280.0,92.0 285.0,85.8 300.6,75.2 317.5,66.0 331.0,59.6 331.0,39.4" fill="#33bbd5"/>
<polygon points="88.8,39.4 88.8,136.6 147.3,130.1 209.7,116.0 240.0,107.3 270.3,96.8 300.6,73.3 317.5,63.7 331.0,57.5 331.0,39.4" fill="#4ac1d4"/>
<polygon points="88.8,39.4 88.8,123.7 147.3,117.6 209.7,109.8 240.0,102.3 270.3,88.6 300.6,71.4 317.5,61.4 331.0,55.4 331.0,39.4" fill="#6fc9d3"/>
<polygon points="88.8,39.4 88.8,116.5 147.3,111.8 209.7,102.9 240.0,97.9 270.3,86.1 300.6,69.7 317.5,59.8 331.0,54.0 331.0,39.4" fill="#8ad1d8"/>
<polygon points="88.8,39.4 88.8,109.3 147.3,106.0 209.7,96.0 240.0,93.6 270.3,83.6 300.6,68.0 317.5,58.2 331.0,52.5 331.0,39.4" fill="#a3dade"/>
<polygon points="88.8,39.4 88.8,105.8 147.3,102.3 209.7,93.6 240.0,89.8 270.3,81.8 300.6,66.5 317.5,56.9 331.0,51.5 331.0,39.4" fill="#c2e6e8"/>
<polygon points="88.8,39.4 88.8,102.3 147.3,98.6 209.7,91.2 240.0,86.0 270.3,80.0 300.6,65.0 317.5,55.6 331.0,50.4 331.0,39.4" fill="#fdeaab"/>
<polygon points="88.8,39.4 88.8,99.0 147.3,96.5 209.7,87.0 240.0,82.0 270.3,77.5 300.6,61.0 317.5,52.5 331.0,48.5 331.0,39.4" fill="#fdd695"/>
<polygon points="88.8,39.4 88.8,95.0 147.3,92.4 209.7,84.0 240.0,78.0 270.3,75.0 300.6,58.5 317.5,50.5 331.0,47.5 331.0,39.4" fill="#fbba7e"/>
<polygon points="88.8,39.4 88.8,89.3 147.3,86.8 209.7,80.0 240.0,74.0 270.3,71.2 300.6,56.2 317.5,48.5 331.0,46.0 331.0,39.4" fill="#f79661"/>
<polygon points="88.8,39.4 88.8,83.7 147.3,81.8 209.7,75.5 240.0,70.0 270.3,67.5 300.6,53.0 317.5,46.5 331.0,44.4 331.0,39.4" fill="#f4744e"/>
<polygon points="88.8,39.4 88.8,78.0 147.3,76.8 209.7,71.0 240.0,66.0 270.3,63.0 300.6,50.0 317.5,44.5 331.0,43.0 331.0,39.4" fill="#f0533f"/>
<polygon points="88.8,39.4 88.8,71.8 147.3,71.8 209.7,66.8 240.0,62.3 270.3,59.5 300.6,47.7 317.5,42.5 331.0,41.5 331.0,39.4" fill="#ee3540"/>
<polygon points="88.8,39.4 88.8,65.0 147.3,65.3 209.7,62.3 240.0,58.6 270.3,56.0 300.6,45.1 317.5,41.7 331.0,41.2 331.0,39.4" fill="#e62a3b"/>
<polygon points="88.8,39.4 88.8,59.4 147.3,60.0 209.7,58.7 240.0,55.6 270.3,53.1 300.6,43.1 317.5,41.0 331.0,41.0 331.0,39.4" fill="#de2039"/>
<polygon points="88.8,39.4 88.8,56.0 147.3,52.2 209.7,49.7 240.0,47.2 270.3,45.4 300.6,41.0 317.5,41.0 331.0,41.0 331.0,39.4" fill="#e62a3b"/>
<polygon points="88.8,39.4 88.8,54.0 147.3,50.2 209.7,47.7 240.0,45.2 270.3,43.4 300.6,41.0 317.5,41.0 331.0,41.0 331.0,39.4" fill="#ee3340"/>
<polyline points="88.8,105.5 147.3,102.0 209.7,93.6 240.0,89.5 270.3,82.0 295.0,70.0" fill="none" stroke="#e4f1fa" stroke-opacity="0.8" stroke-width="1.15" stroke-linejoin="round"/>
<polyline points="88.8,117.0 147.3,112.0 209.7,104.0 240.0,98.0 270.3,86.5 295.0,74.0" fill="none" stroke="#e4f1fa" stroke-opacity="0.8" stroke-width="1.15" stroke-linejoin="round"/>
<polyline points="88.8,152.0 147.3,147.0 209.7,143.0 235.0,142.0 253.0,137.5" fill="none" stroke="#e4f1fa" stroke-opacity="0.8" stroke-width="1.15" stroke-linejoin="round"/>
<polyline points="264.0,135.0 270.5,133.0 277.0,113.0 288.0,102.0 300.6,85.0 313.0,78.0" fill="none" stroke="#e4f1fa" stroke-opacity="0.8" stroke-width="1.15" stroke-linejoin="round"/>
<polyline points="88.8,216.0 147.3,213.5 210.0,214.5 241.0,217.5 245.0,219.0" fill="none" stroke="#e4f1fa" stroke-opacity="0.8" stroke-width="1.15" stroke-linejoin="round"/>
<polyline points="88.8,297.2 210.0,298.3 236.0,304.5" fill="none" stroke="#e4f1fa" stroke-opacity="0.8" stroke-width="1.15" stroke-linejoin="round"/>
<polyline points="88.8,402.0 147.3,402.0 191.0,399.0 209.7,396.0 228.4,403.6" fill="none" stroke="#e4f1fa" stroke-opacity="0.8" stroke-width="1.15" stroke-linejoin="round"/>
<polyline points="88.8,102.3 147.3,98.6 209.7,91.2 240.0,86.0 270.3,80.0 300.6,65.0 317.5,55.6 331.0,50.4" fill="none" stroke="#111114" stroke-width="1.7" stroke-linejoin="round"/>
<polyline points="88.8,109.3 147.3,106.0 209.7,96.0 240.0,93.6 270.3,83.6 300.6,68.0 317.5,58.2 331.0,52.5" fill="none" stroke="#111114" stroke-width="1.7" stroke-linejoin="round"/>
<polyline points="88.8,123.7 147.3,117.6 209.7,109.8 240.0,102.3 270.3,88.6 300.6,71.4 317.5,61.4 331.0,55.4" fill="none" stroke="#111114" stroke-width="1.7" stroke-linejoin="round"/>
<polyline points="88.8,149.5 147.3,142.7 185.0,131.3 209.7,122.3 239.7,112.3 255.0,109.5" fill="none" stroke="#111114" stroke-width="1.7" stroke-linejoin="round"/>
<polyline points="257.0,110.0 270.0,105.0 275.0,100.0 280.0,92.0 285.0,85.8 300.6,75.2 317.5,66.0 331.0,59.6" fill="none" stroke="#111114" stroke-width="1.7" stroke-linejoin="round"/>
<polyline points="88.8,189.5 147.3,178.0 191.0,171.0 209.7,167.5 223.5,160.0 235.0,150.0 245.0,145.0 254.0,138.0" fill="none" stroke="#111114" stroke-width="1.7" stroke-linejoin="round"/>
<polyline points="261.5,133.0 270.0,129.0 273.0,113.0 282.0,100.0 288.0,90.0 300.6,79.4 317.5,71.0 331.0,65.0" fill="none" stroke="#111114" stroke-width="1.7" stroke-linejoin="round"/>
<polyline points="88.8,222.0 147.3,213.8 191.0,215.5 209.7,213.7 241.0,212.0 247.0,210.0 250.5,206.0 251.0,210.0 251.0,219.0 248.5,221.0 247.5,214.0" fill="none" stroke="#111114" stroke-width="1.7" stroke-linejoin="round"/>
<polyline points="88.8,262.5 147.3,258.0 191.0,258.7 209.7,260.0 238.4,263.0" fill="none" stroke="#111114" stroke-width="1.7" stroke-linejoin="round"/>
<polyline points="88.8,322.0 147.3,318.8 191.0,320.0 209.7,320.5 236.0,323.7" fill="none" stroke="#111114" stroke-width="1.7" stroke-linejoin="round"/>
<path d="M84.2 46.1H93.2M88.8 41.6V50.6" stroke="#0c0c12" stroke-opacity="0.9" stroke-width="1.15" fill="none"/>
<path d="M84.2 50.9H93.2M88.8 46.4V55.4" stroke="#0c0c12" stroke-opacity="0.9" stroke-width="1.15" fill="none"/>
<path d="M84.2 55.6H93.2M88.8 51.1V60.1" stroke="#0c0c12" stroke-opacity="0.9" stroke-width="1.15" fill="none"/>
<path d="M84.2 65.1H93.2M88.8 60.6V69.6" stroke="#0c0c12" stroke-opacity="0.9" stroke-width="1.15" fill="none"/>
<path d="M84.2 76.9H93.2M88.8 72.4V81.4" stroke="#0c0c12" stroke-opacity="0.9" stroke-width="1.15" fill="none"/>
<path d="M84.2 88.8H93.2M88.8 84.2V93.2" stroke="#0c0c12" stroke-opacity="0.9" stroke-width="1.15" fill="none"/>
<path d="M84.2 112.4H93.2M88.8 107.9V116.9" stroke="#0c0c12" stroke-opacity="0.9" stroke-width="1.15" fill="none"/>
<path d="M84.2 136.1H93.2M88.8 131.6V140.6" stroke="#0c0c12" stroke-opacity="0.9" stroke-width="1.15" fill="none"/>
<path d="M84.2 159.8H93.2M88.8 155.3V164.3" stroke="#0c0c12" stroke-opacity="0.9" stroke-width="1.15" fill="none"/>
<path d="M84.2 183.4H93.2M88.8 178.9V187.9" stroke="#0c0c12" stroke-opacity="0.9" stroke-width="1.15" fill="none"/>
<path d="M84.2 230.8H93.2M88.8 226.3V235.3" stroke="#0c0c12" stroke-opacity="0.9" stroke-width="1.15" fill="none"/>
<path d="M84.2 278.1H93.2M88.8 273.6V282.6" stroke="#0c0c12" stroke-opacity="0.9" stroke-width="1.15" fill="none"/>
<path d="M84.2 325.5H93.2M88.8 321.0V330.0" stroke="#0c0c12" stroke-opacity="0.9" stroke-width="1.15" fill="none"/>
<path d="M84.2 372.8H93.2M88.8 368.3V377.3" stroke="#0c0c12" stroke-opacity="0.9" stroke-width="1.15" fill="none"/>
<path d="M84.2 420.2H93.2M88.8 415.7V424.7" stroke="#0c0c12" stroke-opacity="0.9" stroke-width="1.15" fill="none"/>
<path d="M84.2 467.5H93.2M88.8 463.0V472.0" stroke="#0c0c12" stroke-opacity="0.9" stroke-width="1.15" fill="none"/>
<path d="M142.8 46.1H151.8M147.3 41.6V50.6" stroke="#0c0c12" stroke-opacity="0.9" stroke-width="1.15" fill="none"/>
<path d="M142.8 50.9H151.8M147.3 46.4V55.4" stroke="#0c0c12" stroke-opacity="0.9" stroke-width="1.15" fill="none"/>
<path d="M142.8 55.6H151.8M147.3 51.1V60.1" stroke="#0c0c12" stroke-opacity="0.9" stroke-width="1.15" fill="none"/>
<path d="M142.8 65.1H151.8M147.3 60.6V69.6" stroke="#0c0c12" stroke-opacity="0.9" stroke-width="1.15" fill="none"/>
<path d="M142.8 76.9H151.8M147.3 72.4V81.4" stroke="#0c0c12" stroke-opacity="0.9" stroke-width="1.15" fill="none"/>
<path d="M142.8 88.8H151.8M147.3 84.2V93.2" stroke="#0c0c12" stroke-opacity="0.9" stroke-width="1.15" fill="none"/>
<path d="M142.8 112.4H151.8M147.3 107.9V116.9" stroke="#0c0c12" stroke-opacity="0.9" stroke-width="1.15" fill="none"/>
<path d="M142.8 136.1H151.8M147.3 131.6V140.6" stroke="#0c0c12" stroke-opacity="0.9" stroke-width="1.15" fill="none"/>
<path d="M142.8 159.8H151.8M147.3 155.3V164.3" stroke="#0c0c12" stroke-opacity="0.9" stroke-width="1.15" fill="none"/>
<path d="M142.8 183.4H151.8M147.3 178.9V187.9" stroke="#0c0c12" stroke-opacity="0.9" stroke-width="1.15" fill="none"/>
<path d="M142.8 230.8H151.8M147.3 226.3V235.3" stroke="#0c0c12" stroke-opacity="0.9" stroke-width="1.15" fill="none"/>
<path d="M142.8 278.1H151.8M147.3 273.6V282.6" stroke="#0c0c12" stroke-opacity="0.9" stroke-width="1.15" fill="none"/>
<path d="M142.8 325.5H151.8M147.3 321.0V330.0" stroke="#0c0c12" stroke-opacity="0.9" stroke-width="1.15" fill="none"/>
<path d="M142.8 372.8H151.8M147.3 368.3V377.3" stroke="#0c0c12" stroke-opacity="0.9" stroke-width="1.15" fill="none"/>
<path d="M142.8 420.2H151.8M147.3 415.7V424.7" stroke="#0c0c12" stroke-opacity="0.9" stroke-width="1.15" fill="none"/>
<path d="M142.8 467.5H151.8M147.3 463.0V472.0" stroke="#0c0c12" stroke-opacity="0.9" stroke-width="1.15" fill="none"/>
<path d="M205.2 46.1H214.2M209.7 41.6V50.6" stroke="#0c0c12" stroke-opacity="0.9" stroke-width="1.15" fill="none"/>
<path d="M205.2 50.9H214.2M209.7 46.4V55.4" stroke="#0c0c12" stroke-opacity="0.9" stroke-width="1.15" fill="none"/>
<path d="M205.2 55.6H214.2M209.7 51.1V60.1" stroke="#0c0c12" stroke-opacity="0.9" stroke-width="1.15" fill="none"/>
<path d="M205.2 65.1H214.2M209.7 60.6V69.6" stroke="#0c0c12" stroke-opacity="0.9" stroke-width="1.15" fill="none"/>
<path d="M205.2 76.9H214.2M209.7 72.4V81.4" stroke="#0c0c12" stroke-opacity="0.9" stroke-width="1.15" fill="none"/>
<path d="M205.2 88.8H214.2M209.7 84.2V93.2" stroke="#0c0c12" stroke-opacity="0.9" stroke-width="1.15" fill="none"/>
<path d="M205.2 112.4H214.2M209.7 107.9V116.9" stroke="#0c0c12" stroke-opacity="0.9" stroke-width="1.15" fill="none"/>
<path d="M205.2 136.1H214.2M209.7 131.6V140.6" stroke="#0c0c12" stroke-opacity="0.9" stroke-width="1.15" fill="none"/>
<path d="M205.2 159.8H214.2M209.7 155.3V164.3" stroke="#0c0c12" stroke-opacity="0.9" stroke-width="1.15" fill="none"/>
<path d="M205.2 183.4H214.2M209.7 178.9V187.9" stroke="#0c0c12" stroke-opacity="0.9" stroke-width="1.15" fill="none"/>
<path d="M205.2 230.8H214.2M209.7 226.3V235.3" stroke="#0c0c12" stroke-opacity="0.9" stroke-width="1.15" fill="none"/>
<path d="M205.2 278.1H214.2M209.7 273.6V282.6" stroke="#0c0c12" stroke-opacity="0.9" stroke-width="1.15" fill="none"/>
<path d="M205.2 325.5H214.2M209.7 321.0V330.0" stroke="#0c0c12" stroke-opacity="0.9" stroke-width="1.15" fill="none"/>
<path d="M205.2 372.8H214.2M209.7 368.3V377.3" stroke="#0c0c12" stroke-opacity="0.9" stroke-width="1.15" fill="none"/>
<path d="M235.5 46.1H244.5M240.0 41.6V50.6" stroke="#0c0c12" stroke-opacity="0.9" stroke-width="1.15" fill="none"/>
<path d="M235.5 50.9H244.5M240.0 46.4V55.4" stroke="#0c0c12" stroke-opacity="0.9" stroke-width="1.15" fill="none"/>
<path d="M235.5 55.6H244.5M240.0 51.1V60.1" stroke="#0c0c12" stroke-opacity="0.9" stroke-width="1.15" fill="none"/>
<path d="M235.5 65.1H244.5M240.0 60.6V69.6" stroke="#0c0c12" stroke-opacity="0.9" stroke-width="1.15" fill="none"/>
<path d="M235.5 76.9H244.5M240.0 72.4V81.4" stroke="#0c0c12" stroke-opacity="0.9" stroke-width="1.15" fill="none"/>
<path d="M235.5 88.8H244.5M240.0 84.2V93.2" stroke="#0c0c12" stroke-opacity="0.9" stroke-width="1.15" fill="none"/>
<path d="M235.5 112.4H244.5M240.0 107.9V116.9" stroke="#0c0c12" stroke-opacity="0.9" stroke-width="1.15" fill="none"/>
<path d="M235.5 136.1H244.5M240.0 131.6V140.6" stroke="#0c0c12" stroke-opacity="0.9" stroke-width="1.15" fill="none"/>
<path d="M235.5 159.8H244.5M240.0 155.3V164.3" stroke="#0c0c12" stroke-opacity="0.9" stroke-width="1.15" fill="none"/>
<path d="M235.5 183.4H244.5M240.0 178.9V187.9" stroke="#0c0c12" stroke-opacity="0.9" stroke-width="1.15" fill="none"/>
<path d="M235.5 230.8H244.5M240.0 226.3V235.3" stroke="#0c0c12" stroke-opacity="0.9" stroke-width="1.15" fill="none"/>
<path d="M265.8 46.1H274.8M270.3 41.6V50.6" stroke="#0c0c12" stroke-opacity="0.9" stroke-width="1.15" fill="none"/>
<path d="M265.8 50.9H274.8M270.3 46.4V55.4" stroke="#0c0c12" stroke-opacity="0.9" stroke-width="1.15" fill="none"/>
<path d="M265.8 55.6H274.8M270.3 51.1V60.1" stroke="#0c0c12" stroke-opacity="0.9" stroke-width="1.15" fill="none"/>
<path d="M265.8 65.1H274.8M270.3 60.6V69.6" stroke="#0c0c12" stroke-opacity="0.9" stroke-width="1.15" fill="none"/>
<path d="M265.8 76.9H274.8M270.3 72.4V81.4" stroke="#0c0c12" stroke-opacity="0.9" stroke-width="1.15" fill="none"/>
<path d="M265.8 88.8H274.8M270.3 84.2V93.2" stroke="#0c0c12" stroke-opacity="0.9" stroke-width="1.15" fill="none"/>
<path d="M265.8 112.4H274.8M270.3 107.9V116.9" stroke="#0c0c12" stroke-opacity="0.9" stroke-width="1.15" fill="none"/>
<path d="M265.8 136.1H274.8M270.3 131.6V140.6" stroke="#0c0c12" stroke-opacity="0.9" stroke-width="1.15" fill="none"/>
<path d="M296.1 46.1H305.1M300.6 41.6V50.6" stroke="#0c0c12" stroke-opacity="0.9" stroke-width="1.15" fill="none"/>
<path d="M296.1 50.9H305.1M300.6 46.4V55.4" stroke="#0c0c12" stroke-opacity="0.9" stroke-width="1.15" fill="none"/>
<path d="M296.1 55.6H305.1M300.6 51.1V60.1" stroke="#0c0c12" stroke-opacity="0.9" stroke-width="1.15" fill="none"/>
<path d="M296.1 65.1H305.1M300.6 60.6V69.6" stroke="#0c0c12" stroke-opacity="0.9" stroke-width="1.15" fill="none"/>
<path d="M296.1 76.9H305.1M300.6 72.4V81.4" stroke="#0c0c12" stroke-opacity="0.9" stroke-width="1.15" fill="none"/>
<path d="M326.5 46.1H335.5M331.0 41.6V50.6" stroke="#0c0c12" stroke-opacity="0.9" stroke-width="1.15" fill="none"/>
<path d="M326.5 50.9H335.5M331.0 46.4V55.4" stroke="#0c0c12" stroke-opacity="0.9" stroke-width="1.15" fill="none"/>
<polyline points="296,88.5 305,82.6 313.3,79.2 319,77 327,72.5" fill="none" stroke="#1662b4" stroke-width="2.2" stroke-dasharray="8 3"/>
<clipPath id="lcb"><polygon points="331.0,71.0 321.7,77.3 313.3,80.8 305.0,84.2 298.3,88.6 294.0,89.8 291.5,95.0 289.0,100.0 282.0,113.0 281.0,121.0 277.0,131.0 275.0,140.0 273.5,160.0 272.0,170.0 270.5,180.0 269.5,183.5 268.5,178.0 267.8,165.0 267.0,155.0 266.0,146.0 263.0,138.0 261.2,127.0 260.0,112.0 259.5,110.5 255.5,110.5 255.0,112.0 253.5,150.0 252.5,170.0 252.0,205.0 251.5,218.0 250.5,221.5 248.0,221.0 246.0,218.0 244.5,230.0 243.5,245.0 241.0,253.0 238.0,263.0 237.7,290.0 237.0,310.0 236.0,330.0 234.0,350.0 232.7,355.0 231.4,375.0 230.0,400.0 227.0,420.0 227.5,440.0 226.7,460.0 225.3,490.0 223.8,516.0 334.0,516.0 334.0,71.5"/></clipPath>
<polygon points="331.0,71.0 321.7,77.3 313.3,80.8 305.0,84.2 298.3,88.6 294.0,89.8 291.5,95.0 289.0,100.0 282.0,113.0 281.0,121.0 277.0,131.0 275.0,140.0 273.5,160.0 272.0,170.0 270.5,180.0 269.5,183.5 268.5,178.0 267.8,165.0 267.0,155.0 266.0,146.0 263.0,138.0 261.2,127.0 260.0,112.0 259.5,110.5 255.5,110.5 255.0,112.0 253.5,150.0 252.5,170.0 252.0,205.0 251.5,218.0 250.5,221.5 248.0,221.0 246.0,218.0 244.5,230.0 243.5,245.0 241.0,253.0 238.0,263.0 237.7,290.0 237.0,310.0 236.0,330.0 234.0,350.0 232.7,355.0 231.4,375.0 230.0,400.0 227.0,420.0 227.5,440.0 226.7,460.0 225.3,490.0 223.8,516.0 334.0,516.0 334.0,71.5" fill="#c6c7c9"/>
<polygon points="331.0,71.0 321.7,77.3 313.3,80.8 305.0,84.2 298.3,88.6 294.0,89.8 291.5,95.0 289.0,100.0 282.0,113.0 281.0,121.0 277.0,131.0 275.0,140.0 273.5,160.0 272.0,170.0 270.5,180.0 269.5,183.5 268.5,178.0 267.8,165.0 267.0,155.0 266.0,146.0 263.0,138.0 261.2,127.0 260.0,112.0 259.5,110.5 255.5,110.5 255.0,112.0 253.5,150.0 252.5,170.0 252.0,205.0 251.5,218.0 250.5,221.5 248.0,221.0 246.0,218.0 244.5,230.0 243.5,245.0 241.0,253.0 238.0,263.0 237.7,290.0 237.0,310.0 236.0,330.0 234.0,350.0 232.7,355.0 231.4,375.0 230.0,400.0 227.0,420.0 227.5,440.0 226.7,460.0 225.3,490.0 223.8,516.0 334.0,516.0 334.0,71.5" fill="none" stroke="#d9d9db" stroke-width="4.4" stroke-linejoin="round" clip-path="url(#lcb)"/>
<polygon points="331.0,71.0 321.7,77.3 313.3,80.8 305.0,84.2 298.3,88.6 294.0,89.8 291.5,95.0 289.0,100.0 282.0,113.0 281.0,121.0 277.0,131.0 275.0,140.0 273.5,160.0 272.0,170.0 270.5,180.0 269.5,183.5 268.5,178.0 267.8,165.0 267.0,155.0 266.0,146.0 263.0,138.0 261.2,127.0 260.0,112.0 259.5,110.5 255.5,110.5 255.0,112.0 253.5,150.0 252.5,170.0 252.0,205.0 251.5,218.0 250.5,221.5 248.0,221.0 246.0,218.0 244.5,230.0 243.5,245.0 241.0,253.0 238.0,263.0 237.7,290.0 237.0,310.0 236.0,330.0 234.0,350.0 232.7,355.0 231.4,375.0 230.0,400.0 227.0,420.0 227.5,440.0 226.7,460.0 225.3,490.0 223.8,516.0 334.0,516.0 334.0,71.5" fill="none" stroke="#111114" stroke-width="1.9" stroke-linejoin="round"/>
<polygon points="203.6,516.0 205.0,492.0 206.4,466.0 207.7,432.0 208.5,400.0 209.1,370.0 209.7,358.0 210.9,355.6 212.1,358.0 212.8,370.0 213.4,410.0 213.8,450.0 214.5,477.0 216.5,495.0 219.0,508.0 222.0,513.0 222.2,516.0" fill="#d3d3d5" stroke="#111114" stroke-width="1.15" stroke-linejoin="round"/>
<path d="M311.5 76.4A3.6 3.6 0 1 1 318.1 77.8" fill="none" stroke="#fff" stroke-width="1.4" stroke-linecap="round"/>
<polygon points="88.75,443.4 147.3,436 147.3,441.6 88.75,449.2" fill="#0a0a0c"/>
</g>
<path d="M95 41.4v5.8M95 514.2v-6" stroke="#111114" stroke-width="1.9"/>
<path d="M159.7 41.4v5.8M159.7 514.2v-6" stroke="#111114" stroke-width="1.9"/>
<path d="M224.4 41.4v5.8M224.4 514.2v-6" stroke="#111114" stroke-width="1.9"/>
<path d="M289 41.4v5.8M289 514.2v-6" stroke="#111114" stroke-width="1.9"/>
<path d="M330.7 88.8h-5.5" stroke="#111114" stroke-width="1.6"/>
<path d="M88.4 88.8h4" stroke="#111114" stroke-width="1.6"/>
<path d="M330.7 136.1h-5.5" stroke="#111114" stroke-width="1.6"/>
<path d="M88.4 136.1h5.5" stroke="#111114" stroke-width="1.6"/>
<path d="M330.7 183.4h-5.5" stroke="#111114" stroke-width="1.6"/>
<path d="M88.4 183.4h4" stroke="#111114" stroke-width="1.6"/>
<path d="M330.7 230.8h-5.5" stroke="#111114" stroke-width="1.6"/>
<path d="M88.4 230.8h5.5" stroke="#111114" stroke-width="1.6"/>
<path d="M330.7 278.1h-5.5" stroke="#111114" stroke-width="1.6"/>
<path d="M88.4 278.1h4" stroke="#111114" stroke-width="1.6"/>
<path d="M330.7 325.5h-5.5" stroke="#111114" stroke-width="1.6"/>
<path d="M88.4 325.5h5.5" stroke="#111114" stroke-width="1.6"/>
<path d="M330.7 372.8h-5.5" stroke="#111114" stroke-width="1.6"/>
<path d="M88.4 372.8h4" stroke="#111114" stroke-width="1.6"/>
<path d="M330.7 420.2h-5.5" stroke="#111114" stroke-width="1.6"/>
<path d="M88.4 420.2h5.5" stroke="#111114" stroke-width="1.6"/>
<path d="M330.7 467.5h-5.5" stroke="#111114" stroke-width="1.6"/>
<path d="M88.4 467.5h4" stroke="#111114" stroke-width="1.6"/>
<rect x="88.4" y="41.4" width="242.29999999999998" height="472.80000000000007" fill="none" stroke="#161618" stroke-width="2.9"/>
<polygon points="84.5,35 93.0,35 88.8,41" fill="#111114"/>
<text x="88.8" y="27.3" text-anchor="middle" font-size="22.8" stroke="#1a1a1a" stroke-width="0.25">NH85</text>
<polygon points="143.1,35 151.5,35 147.3,41" fill="#111114"/>
<text x="147.3" y="27.3" text-anchor="middle" font-size="22.8" stroke="#1a1a1a" stroke-width="0.25">65</text>
<polygon points="205.5,35 213.9,35 209.7,41" fill="#111114"/>
<text x="209.7" y="27.3" text-anchor="middle" font-size="22.8" stroke="#1a1a1a" stroke-width="0.25">45</text>
<polygon points="235.8,35 244.2,35 240.0,41" fill="#111114"/>
<text x="240.0" y="27.3" text-anchor="middle" font-size="22.8" stroke="#1a1a1a" stroke-width="0.25">35</text>
<polygon points="266.1,35 274.5,35 270.3,41" fill="#111114"/>
<text x="270.3" y="27.3" text-anchor="middle" font-size="22.8" stroke="#1a1a1a" stroke-width="0.25">25</text>
<polygon points="296.4,35 304.8,35 300.6,41" fill="#111114"/>
<text x="300.6" y="27.3" text-anchor="middle" font-size="22.8" stroke="#1a1a1a" stroke-width="0.25">15</text>
<polygon points="326.8,35 335.2,35 331.0,41" fill="#111114"/>
<text x="331.0" y="27.3" text-anchor="middle" font-size="22.8" stroke="#1a1a1a" stroke-width="0.25">5</text>
<text x="77.8" y="50.4" text-anchor="end" font-size="23" stroke="#1a1a1a" stroke-width="0.25">0</text>
<text x="77.8" y="144.4" text-anchor="end" font-size="23" stroke="#1a1a1a" stroke-width="0.25">200</text>
<text x="77.8" y="239.1" text-anchor="end" font-size="23" stroke="#1a1a1a" stroke-width="0.25">400</text>
<text x="77.8" y="333.8" text-anchor="end" font-size="23" stroke="#1a1a1a" stroke-width="0.25">600</text>
<text x="77.8" y="428.5" text-anchor="end" font-size="23" stroke="#1a1a1a" stroke-width="0.25">800</text>
<text x="162.5" y="543" text-anchor="middle" font-size="22.7" stroke="#1a1a1a" stroke-width="0.25">125.5°W</text>
<text x="291" y="543" text-anchor="middle" font-size="22.7" stroke="#1a1a1a" stroke-width="0.25">124.5°W</text>
<path d="M88.5 561.3H330.8" stroke="#111114" stroke-width="2.7"/>
<path d="M130 561.3v-3.6" stroke="#111114" stroke-width="2.1"/>
<path d="M172.5 561.3v-6" stroke="#111114" stroke-width="2.1"/>
<path d="M216.5 561.3v-3.6" stroke="#111114" stroke-width="2.1"/>
<path d="M260 561.3v-6" stroke="#111114" stroke-width="2.1"/>
<path d="M303.2 561.3v-3.6" stroke="#111114" stroke-width="2.1"/>
<text x="174" y="588.7" text-anchor="middle" font-size="23" stroke="#1a1a1a" stroke-width="0.25">100 km</text>
<text x="259" y="588.7" text-anchor="middle" font-size="23" stroke="#1a1a1a" stroke-width="0.25">50 km</text>
<text x="74" y="548" text-anchor="middle" font-size="31" font-weight="bold" fill="#222" stroke="#222" stroke-width="0.2">(b)</text>
<text x="258.6" y="433.9" font-size="23.2" font-weight="bold" fill="#272425" stroke="#272425" stroke-width="0.2">DO<tspan font-size="16.5" dy="6" dx="-0.8">2</tspan></text>
<text x="231.2" y="463" font-size="18.5" font-weight="bold" fill="#272425" stroke="#272425" stroke-width="0.2">(<tspan font-weight="normal" font-size="19.6">µ</tspan>mol kg<tspan font-size="15" dy="-6.5">-1</tspan><tspan dy="6.5">)</tspan></text>
<text x="281.2" y="490.6" text-anchor="middle" font-size="18.35" font-weight="bold" fill="#272425" stroke="#272425" stroke-width="0.2">1998-2009</text>
<text x="147.6" y="108" text-anchor="middle" font-size="22.8" fill="#231f20" stroke="#231f20" stroke-width="0.25">160</text>
<text x="145" y="116" text-anchor="middle" font-size="22.8" fill="#231f20" stroke="#231f20" stroke-width="0.25">140</text>
<text x="169.8" y="122.5" text-anchor="middle" font-size="22.8" fill="#231f20" stroke="#231f20" stroke-width="0.25">120</text>
<text x="164.6" y="146.3" text-anchor="middle" font-size="22.8" fill="#231f20" stroke="#231f20" stroke-width="0.25">100</text>
<text x="183.7" y="183.4" text-anchor="middle" font-size="22.8" fill="#231f20" stroke="#231f20" stroke-width="0.25">80</text>
<text x="131" y="115.8" text-anchor="middle" font-size="23" fill="#fff" stroke="#fff" stroke-width="0.45">26.2</text>
<text x="130.5" y="129.8" text-anchor="middle" font-size="23" fill="#fff" stroke="#fff" stroke-width="0.45">26.4</text>
<text x="124.4" y="160.5" text-anchor="middle" font-size="23" fill="#fff" stroke="#fff" stroke-width="0.45">26.6</text>
<text x="127" y="223.7" text-anchor="middle" font-size="23" fill="#fff" stroke="#fff" stroke-width="0.45">26.8</text>
<text x="122.8" y="307.3" text-anchor="middle" font-size="23" fill="#fff" stroke="#fff" stroke-width="0.45">27</text>
<text x="124.7" y="410.8" text-anchor="middle" font-size="23" fill="#fff" stroke="#fff" stroke-width="0.45">27.2</text>
<path d="M67 446H86.5M80.5 441.2L87 446L80.5 450.8" stroke="#1c1c1c" stroke-width="1.3" fill="none"/>
</g>
<rect x="647.3" y="132.9" width="1.4" height="2.2" fill="#8a8a8a" opacity="0.75"/>
<rect x="647.3" y="141.9" width="1.4" height="2.2" fill="#8a8a8a" opacity="0.75"/>
<rect x="647.3" y="232.2" width="1.4" height="2.6" fill="#8a8a8a" opacity="0.75"/>
<rect x="647.3" y="322.5" width="1.4" height="5" fill="#8a8a8a" opacity="0.75"/>
<rect x="647.3" y="420.5" width="1.4" height="3" fill="#8a8a8a" opacity="0.75"/>
</svg>
</body>
</html>
